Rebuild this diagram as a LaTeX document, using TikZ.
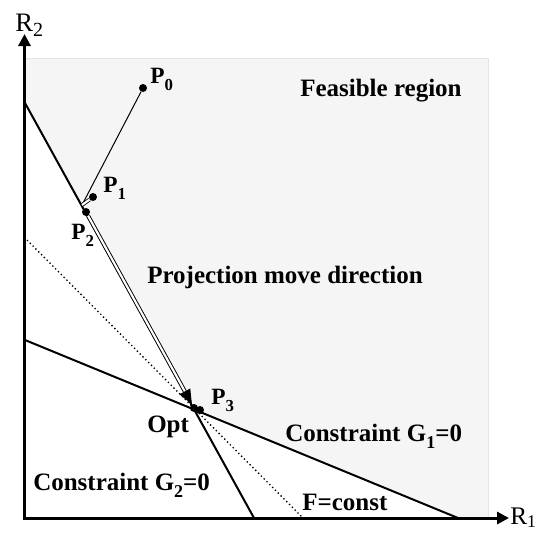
\documentclass[tikz,border=0pt]{standalone}
\usepackage{fontspec}
\setmainfont{Liberation Serif}
\usepackage{graphicx}
\usetikzlibrary{arrows.meta}
\newcommand{\lowidx}[1]{\raisebox{-0.3em}{\scalebox{0.72}{#1}}}

\begin{document}
\begin{tikzpicture}[x=0.75pt, y=-0.75pt,
    axis/.style={line width=2.25pt, -{Triangle[length=9pt,width=9pt]}},
    cline/.style={line width=1.5pt},
    dot/.style={circle, fill, inner sep=0pt, minimum size=6pt},
    lbl/.style={font=\bfseries\fontsize{18.75}{22}\selectfont, inner sep=0pt},
    plbl/.style={font=\bfseries\fontsize{17.5}{20}\selectfont, inner sep=0pt},
    albl/.style={font=\fontsize{20}{24}\selectfont, inner sep=0pt},
    move/.style={double, double distance=1.6pt, line width=0.7pt, -{Triangle[length=11pt,width=9pt]}}]
    \useasboundingbox (0,0) rectangle (541,533);

    % feasible region
    \fill[gray!8] (25,58) -- (488,58) -- (488,518) -- (458,518) -- (197,409) -- (25,103) -- cycle;
    \draw[gray!20, line width=0.5pt] (25,58) -- (488,58) -- (488,518);

    % constraint lines and objective level
    \coordinate (g2a) at (25,103);
    \coordinate (g2b) at (254,518);
    \coordinate (g1a) at (25,340);
    \coordinate (g1b) at (458,518);
    \coordinate (fa) at (27,240);
    \coordinate (fb) at (303,518);
    \draw[cline] (g2a) -- (g2b);
    \draw[cline] (g1a) -- (g1b);
    \draw[dotted, line width=1pt] (fa) -- (fb);

    % axes
    \coordinate (o) at (24.5,519.5);
    \coordinate (ytop) at (24.5,34);
    \coordinate (xend) at (509,518);
    \draw[axis] (o) -- (ytop);
    \draw[axis] (23,518) -- (xend);
    \node[albl, anchor=base west] (lr2) at (15,31) {R\raisebox{-0.22em}{\scalebox{0.75}{2}}};
    \node[albl, font=\fontsize{19}{22}\selectfont, anchor=base west] (lr1) at (510,524) {R\raisebox{-0.15em}{\scalebox{0.7}{1}}};

    % points
    \node[dot] (p0) at (143,88) {};
    \node[dot] (p1) at (93,197) {};
    \node[dot] (p2) at (86,212) {};
    \node[dot] (p3) at (194,408) {};
    \node[dot] (opt) at (200,410) {};
    \coordinate (foot) at (82,205);

    \draw[line width=0.75pt] (p0) -- (foot);
    \draw[double, double distance=1.6pt, line width=0.6pt] (p1) -- (foot);
    \draw[move] (p2) -- (p3);

    % labels
    \node[plbl, anchor=base west] (lp0) at (150,83) {P\lowidx{0}};
    \node[plbl, anchor=base west] (lp1) at (103,192) {P\lowidx{1}};
    \node[plbl, anchor=base west] (lp2) at (71,239) {P\lowidx{2}};
    \node[plbl, anchor=base west] (lp3) at (211,404) {P\lowidx{3}};
    \node[lbl, anchor=base west] (lopt) at (147,432) {Opt};
    \node[lbl, anchor=base west] (lfeas) at (300,96) {Feasible region};
    \node[lbl, anchor=base west] (lproj) at (147,283) {Projection move direction};
    \node[lbl, anchor=base west] (lg1) at (285,441) {Constraint G\lowidx{1}=0};
    \node[lbl, anchor=base west] (lg2) at (33,490) {Constraint G\lowidx{2}=0};
    \node[lbl, anchor=base west] (lf) at (302,510) {F=const};
\end{tikzpicture}
\end{document}
